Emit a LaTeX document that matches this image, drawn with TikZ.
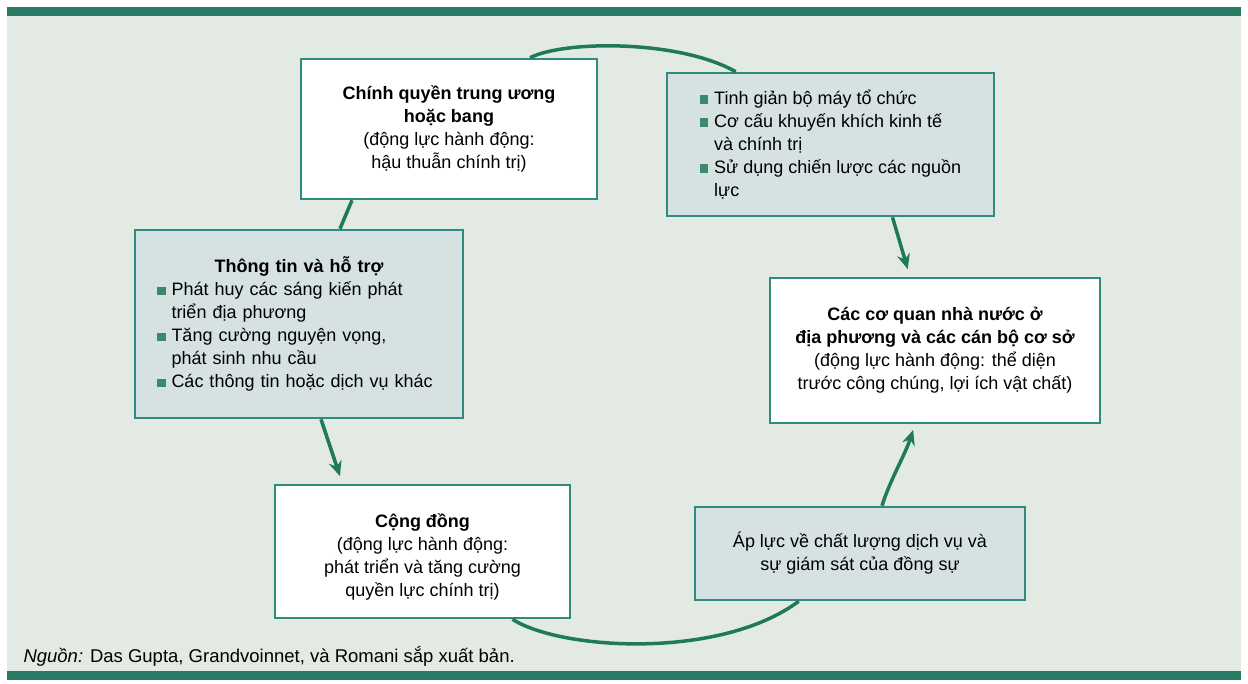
\documentclass[tikz,border=0pt]{standalone}
\usepackage{fontspec}
\setmainfont{Liberation Sans}
\usetikzlibrary{arrows.meta,calc}
\definecolor{bgc}{HTML}{E3EAE3}
\definecolor{bandc}{HTML}{2A7A66}
\definecolor{edgec}{HTML}{2E8C7E}
\definecolor{shadec}{HTML}{D6E1E1}
\definecolor{linec}{HTML}{1F7A58}
\definecolor{bulc}{HTML}{3A8A6A}
\newcommand\bsq{\textcolor{bulc}{\rule[0.5pt]{8.5pt}{8.5pt}}\hspace{6pt}}
\newcommand\bind{\phantom{\bsq}}
\begin{document}
\begin{tikzpicture}[x=1pt,y=-1pt,
  font=\fontsize{18}{23}\selectfont,
  wbox/.style={draw=edgec, line width=2.5pt, fill=white, align=center, inner sep=0pt, rectangle},
  sbox/.style={draw=edgec, line width=2.5pt, fill=shadec, inner sep=0pt, rectangle},
  conn/.style={draw=linec, line width=3.5pt},
  arrowconn/.style={conn, -{Stealth[length=15pt,width=13pt]}}]
\useasboundingbox (0,0) rectangle (1248,684);
\fill[white] (0,0) rectangle (1248,684);
\fill[bgc] (7,7) rectangle (1241,680);
\fill[bandc] (7,7) rectangle (1241,16);
\fill[bandc] (7,671) rectangle (1241,680);

\node[wbox, minimum width=296pt, minimum height=140pt] (A) at (449,129)
  {\textbf{Chính quyền trung ương}\\\textbf{hoặc bang}\\(động lực hành động:\\hậu thuẫn chính trị)};
\node[sbox, align=left, minimum width=327pt, minimum height=143pt] (B) at (830.5,144.5)
  {\bsq Tinh giản bộ máy tổ chức\\\bsq Cơ cấu khuyến khích kinh tế\\\bind và chính trị\\\bsq Sử dụng chiến lược các nguồn\\\bind lực};
\node[sbox, align=left, text width=284pt, minimum width=328pt, minimum height=188pt] (C) at (299,324)
  {{\centering\textbf{Thông tin và hỗ trợ}\par}\bsq Phát huy các sáng kiến phát\\\bind triển địa phương\\\bsq Tăng cường nguyện vọng,\\\bind phát sinh nhu cầu\\\bsq Các thông tin hoặc dịch vụ khác};
\node[wbox, minimum width=330pt, minimum height=145pt] (D) at (935,350.5)
  {\textbf{Các cơ quan nhà nước ở}\\\textbf{địa phương và các cán bộ cơ sở}\\(động lực hành động: thể diện\\trước công chúng, lợi ích vật chất)};
\node[wbox, minimum width=295pt, minimum height=133pt] (E) at (422.5,551.5)
  {\rule{0pt}{25pt}\textbf{Cộng đồng}\\(động lực hành động:\\phát triển và tăng cường\\quyền lực chính trị)};
\node[sbox, align=center, minimum width=330pt, minimum height=93pt] (F) at (860,553.5)
  {Áp lực về chất lượng dịch vụ và\\sự giám sát của đồng sự};

\draw[conn] ([xshift=81pt]A.north) .. controls (565,40) and (680,40) .. ([xshift=70pt]B.north west);
\draw[arrowconn, shorten >=8pt] ([xshift=62pt]B.south) -- ([xshift=-25pt]D.north);
\draw[conn] ([xshift=-97pt]A.south) -- ([xshift=41pt]C.north);
\draw[arrowconn, shorten >=8pt] ([xshift=22pt]C.south) -- ([xshift=-80pt]E.north);
\draw[conn] ([xshift=90pt]E.south) .. controls (560,650) and (720,660) .. ([xshift=105pt]F.south west);
\draw[arrowconn, shorten >=6pt] ([xshift=22pt]F.north) .. controls (890,480) and (905,455) .. ([xshift=-20pt]D.south);

\node[anchor=west, font=\fontsize{18.5}{22}\selectfont] (src) at (20,656)
  {\textit{Nguồn:} Das Gupta, Grandvoinnet, và Romani sắp xuất bản.};
\end{tikzpicture}
\end{document}
